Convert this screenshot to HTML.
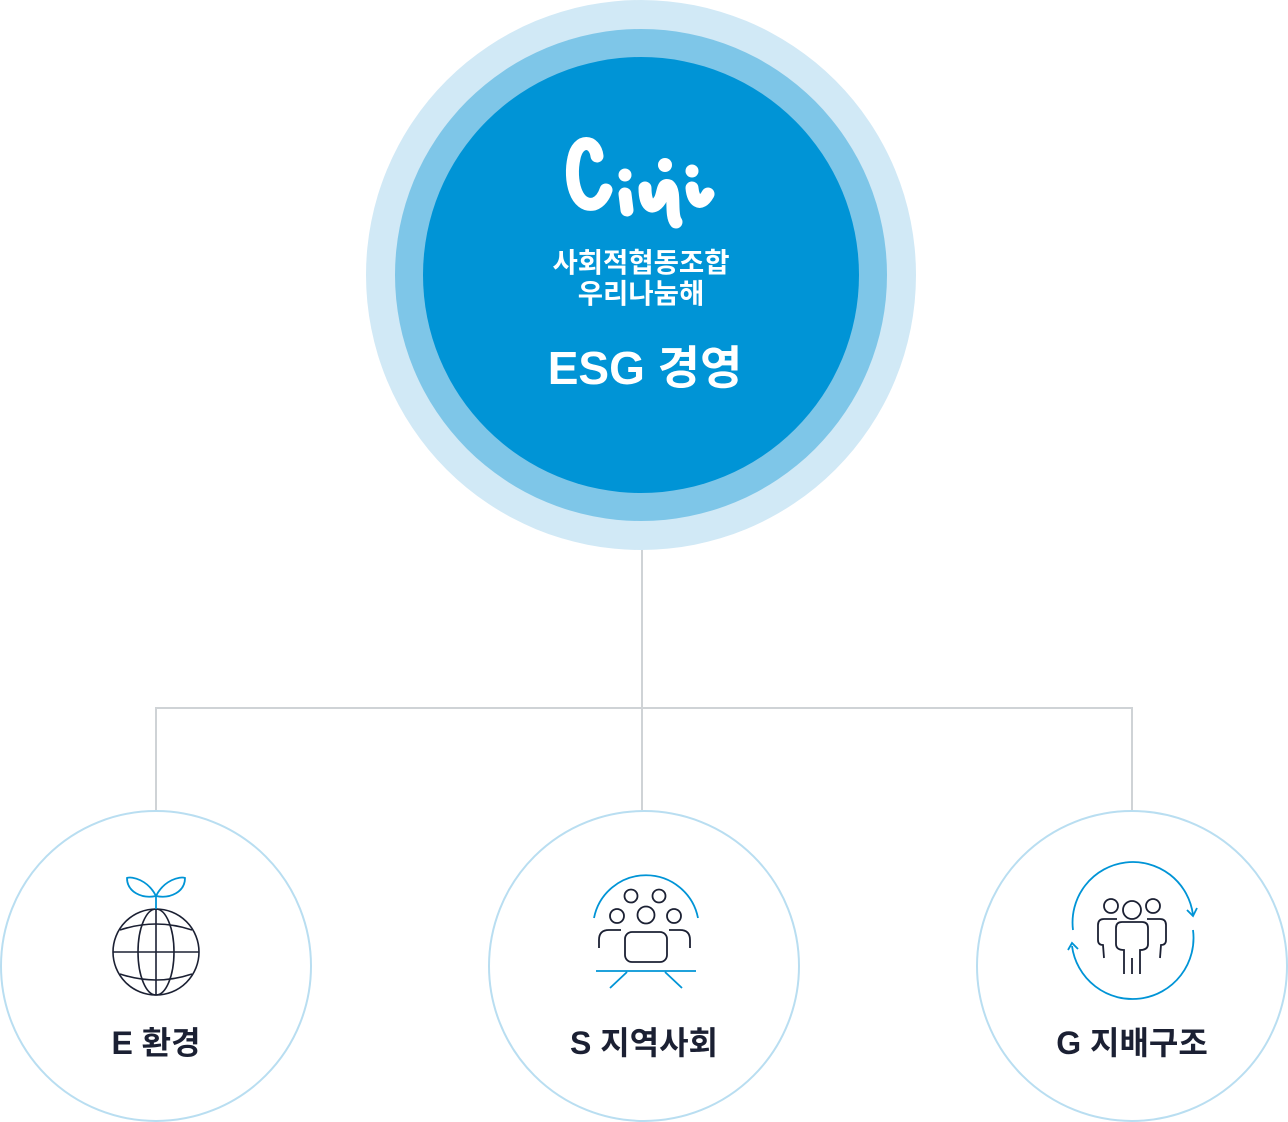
<!DOCTYPE html>
<html><head><meta charset="utf-8"><style>
html,body{margin:0;padding:0;background:#fff;}
svg{display:block}
text{font-family:"Liberation Sans","Noto Sans CJK KR",sans-serif;}
</style></head><body>
<svg width="1288" height="1122" viewBox="0 0 1288 1122" xmlns="http://www.w3.org/2000/svg">
<g stroke="#cfd3d6" stroke-width="2" fill="none">
<line x1="642" y1="548" x2="642" y2="810"/>
<line x1="156" y1="708" x2="1132" y2="708"/>
<line x1="156" y1="707" x2="156" y2="810"/>
<line x1="1132" y1="707" x2="1132" y2="810"/>
</g>
<circle cx="641" cy="275" r="275" fill="#d1e9f6"/>
<circle cx="641" cy="275" r="246" fill="#7ec6e8"/>
<circle cx="641" cy="275" r="218" fill="#0094d6"/>
<g stroke="#fff" stroke-width="13" stroke-linecap="round" stroke-linejoin="round" fill="none">
<path d="M597 156 C595 140 578 138 574 158 C569 180 576 208 594 204 C600 202 604 196 606 190"/>
<path d="M625 194 L627 210"/>
<path d="M645 188 C645 205 652 212 660 200 C664 193 662 183 669 186 C676 192 670 214 676 222"/>
<path d="M692 188 C693 200 700 208 708 194"/>
</g>
<g fill="#fff">
<circle cx="625" cy="175" r="6.5"/>
<circle cx="665" cy="165" r="7"/>
<circle cx="692" cy="171" r="6.5"/>
</g>
<text x="641" y="272" text-anchor="middle" font-size="27.5" font-weight="bold" fill="#fff">사회적협동조합</text>
<text x="641" y="303" text-anchor="middle" font-size="27.5" font-weight="bold" fill="#fff">우리나눔해</text>
<text x="645" y="384" text-anchor="middle" font-size="46" font-weight="bold" fill="#fff">ESG 경영</text>
<g fill="#fff" stroke="#b9def1" stroke-width="2">
<circle cx="156" cy="966" r="155"/>
<circle cx="644" cy="966" r="155"/>
<circle cx="1132" cy="966" r="155"/>
</g>
<g stroke="#1b2033" stroke-width="1.6" fill="none">
<circle cx="156" cy="952" r="43"/>
<ellipse cx="156" cy="952" rx="18" ry="43"/>
<line x1="156" y1="909" x2="156" y2="995"/>
<line x1="113" y1="952" x2="199" y2="952"/>
<path d="M120 930 Q156 918 192 930"/>
<path d="M120 974 Q156 986 192 974"/>
</g>
<g stroke="#0094d6" stroke-width="1.8" fill="none">
<path d="M156 909 L156 896"/>
<path d="M156 896 C148 880 132 876 127 878 C127 892 142 899 156 896 Z"/>
<path d="M156 896 C164 880 180 876 185 878 C185 892 170 899 156 896 Z"/>
</g>
<text x="156" y="1054" text-anchor="middle" font-size="32" font-weight="bold" fill="#1b2033">E 환경</text>
<g stroke="#0094d6" stroke-width="1.8" fill="none">
<path d="M594 918 A53 53 0 0 1 698 918"/>
<line x1="596" y1="971" x2="696" y2="971"/>
<line x1="627" y1="972" x2="610" y2="988"/>
<line x1="665" y1="972" x2="682" y2="988"/>
</g>
<g stroke="#1b2033" stroke-width="1.8" fill="none">
<circle cx="631" cy="896" r="6.5"/>
<circle cx="659" cy="896" r="6.5"/>
<circle cx="617" cy="916" r="7"/>
<circle cx="646" cy="915" r="8.5"/>
<circle cx="674" cy="916" r="7"/>
<rect x="625" y="932" width="42" height="30" rx="7"/>
<path d="M599 948 L599 940 Q599 930 609 930 L621 930"/>
<path d="M690 948 L690 940 Q690 930 680 930 L669 930"/>
</g>
<text x="644" y="1054" text-anchor="middle" font-size="32" font-weight="bold" fill="#1b2033">S 지역사회</text>
<g stroke="#0094d6" stroke-width="1.8" fill="none">
<path d="M1073 930 A60 60 0 0 1 1193 915"/>
<path d="M1187 910 L1193 916 L1197 908"/>
<path d="M1193 930 A60 60 0 0 1 1072 946"/>
<path d="M1068 950 L1072 943 L1078 949"/>
</g>
<g stroke="#1b2033" stroke-width="1.8" fill="none">
<circle cx="1111" cy="906" r="7"/>
<circle cx="1153" cy="906" r="7"/>
<circle cx="1132" cy="910" r="9"/>
<path d="M1117 919 L1104 919 Q1098 919 1098 925 L1098 940 Q1098 945 1103 945 L1104 958"/>
<path d="M1147 919 L1160 919 Q1166 919 1166 925 L1166 940 Q1166 945 1161 945 L1160 958"/>
<path d="M1124 974 L1124 950 Q1116 950 1116 944 L1116 928 Q1116 922 1122 922 L1142 922 Q1148 922 1148 928 L1148 944 Q1148 950 1140 950 L1140 974"/>
<line x1="1132" y1="958" x2="1132" y2="974"/>
</g>
<text x="1132" y="1054" text-anchor="middle" font-size="32" font-weight="bold" fill="#1b2033">G 지배구조</text>
</svg>
</body></html>
